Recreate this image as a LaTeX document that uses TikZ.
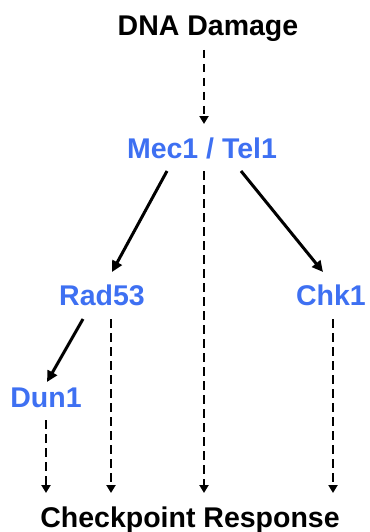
\documentclass[tikz,border=0pt]{standalone}
\usepackage{fontspec}
\setmainfont{Liberation Sans}
\usetikzlibrary{arrows.meta}
\definecolor{protblue}{RGB}{62,112,242}
\tikzset{
  lbl/.style={anchor=base,inner sep=0pt,font=\bfseries\fontsize{28.5}{30}\selectfont,text=black},
  prot/.style={lbl,text=protblue},
  solidarrow/.style={line width=3pt,-{Triangle[length=11pt,width=10.5pt]}},
  dasharrow/.style={line width=2.5pt,dash pattern=on 8.5pt off 5.5pt,-{Triangle[length=8pt,width=9pt]}}
}
\begin{document}
\begin{tikzpicture}[x=1pt,y=-1pt]
\useasboundingbox (0,0) rectangle (369,532);
\node[lbl]  (dmg)  at (208,36)  {DNA Damage};
\node[prot] (mec)  at (202,158) {Mec1 / Tel1};
\node[prot] (rad)  at (102,305) {Rad53};
\node[prot] (chk)  at (331,305) {Chk1};
\node[prot] (dun)  at (46,407)  {Dun1};
\node[lbl]  (resp) at (190,527) {Checkpoint Response};
\draw[dasharrow]  ([shift={(-4,14)}]dmg.base) -- ([shift={(2,-34)}]mec.base);
\draw[solidarrow] ([shift={(-35,13)}]mec.base) -- ([shift={(10,-33)}]rad.base);
\draw[solidarrow] ([shift={(39,13)}]mec.base) -- ([shift={(-8,-33)}]chk.base);
\draw[dasharrow]  ([shift={(2,13)}]mec.base) -- ([shift={(14,-34)}]resp.base);
\draw[solidarrow] ([shift={(-19,14)}]rad.base) -- ([shift={(1,-25)}]dun.base);
\draw[dasharrow]  ([shift={(9,14)}]rad.base) -- ([shift={(-79,-34)}]resp.base);
\draw[dasharrow]  ([shift={(0,13)}]dun.base) -- ([shift={(-144,-34)}]resp.base);
\draw[dasharrow]  ([shift={(2,14)}]chk.base) -- ([shift={(143,-34)}]resp.base);
\end{tikzpicture}
\end{document}
